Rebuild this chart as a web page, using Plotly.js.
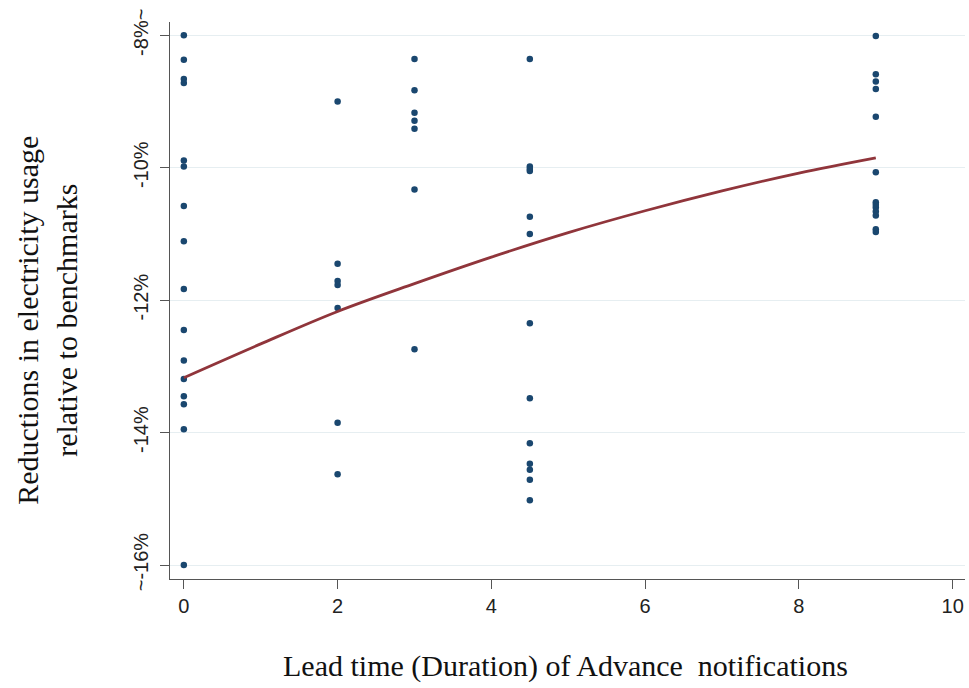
<!DOCTYPE html>
<html>
<head>
<meta charset="utf-8">
<script src="https://cdn.plot.ly/plotly-3.0.1.min.js"></script>
<style>
html,body{margin:0;padding:0;background:#fff;}
#chart{width:969px;height:688px;}
</style>
</head>
<body>
<div id="chart"></div>
<script>
// Observed reductions (percent) by lead time
const leadTime = [
  0,0,0,0,0,0,0,0,0,0,0,0,0,0,0,0,
  2,2,2,2,2,2,2,
  3,3,3,3,3,3,3,
  4.5,4.5,4.5,4.5,4.5,4.5,4.5,4.5,4.5,4.5,4.5,4.5,4.5,
  9,9,9,9,9,9,9,9,9,9,9,9,9
];
const reduction = [
  -8.00,-8.37,-8.66,-8.72,-9.89,-9.98,-10.58,-11.11,-11.83,-12.45,-12.91,-13.19,-13.45,-13.57,-13.95,-16.00,
  -9.00,-11.45,-11.71,-11.77,-12.12,-13.85,-14.63,
  -8.36,-8.83,-9.17,-9.29,-9.41,-10.33,-12.74,
  -8.36,-9.98,-10.05,-10.74,-11.00,-12.35,-13.48,-14.16,-14.47,-14.56,-14.71,-15.02,-10.02,
  -8.01,-8.59,-8.70,-8.81,-9.23,-10.07,-10.52,-10.60,-10.66,-10.72,-10.93,-10.97,-10.56
];
// Fitted curve
const fitX = [0,1,2,3,4,5,6,7,8,9];
const fitY = [-13.17,-12.66,-12.17,-11.75,-11.35,-10.98,-10.65,-10.35,-10.08,-9.85];
// Axis ticks
const xTicks = [0,2,4,6,8,10];
const yTicks = [-8,-10,-12,-14,-16];
const yTickText = ["-8%~","-10%","-12%","-14%","~-16%"];

const traces = [
  {
    x: leadTime, y: reduction, type: 'scatter', mode: 'markers',
    marker: {color: '#1a476f', size: 6.5}, hoverinfo: 'x+y'
  },
  {
    x: fitX, y: fitY, type: 'scatter', mode: 'lines',
    line: {color: '#90353b', width: 2.8, shape: 'spline'}
  }
];

const layout = {
  width: 969, height: 688,
  margin: {l: 170, r: 4, t: 22, b: 109},
  paper_bgcolor: '#ffffff', plot_bgcolor: '#ffffff',
  showlegend: false,
  font: {family: 'Liberation Sans, Arial, sans-serif', color: '#222'},
  xaxis: {
    range: [-0.18, 10.16],
    tickvals: xTicks, ticktext: xTicks.map(String),
    ticks: 'outside', ticklen: 9, tickwidth: 1, tickcolor: '#555',
    showline: true, linecolor: '#555', linewidth: 1,
    showgrid: false, zeroline: false,
    tickfont: {size: 20, color: '#222'}
  },
  yaxis: {
    range: [-16.21, -7.80],
    tickvals: yTicks, ticktext: yTickText, tickangle: -90,
    ticks: 'outside', ticklen: 9, tickwidth: 1, tickcolor: '#555',
    ticklabelstandoff: 4,
    showline: true, linecolor: '#555', linewidth: 1,
    showgrid: true, gridcolor: '#e6eef1', gridwidth: 1,
    zeroline: false,
    tickfont: {size: 20, color: '#222'}
  },
  annotations: [
    {
      text: 'Reductions in electricity usage<br>relative to benchmarks',
      xref: 'paper', yref: 'paper', x: -0.155, y: 0.465,
      xanchor: 'center', yanchor: 'middle',
      textangle: -90, showarrow: false,
      font: {family: 'Liberation Serif, Times New Roman, serif', size: 30, color: '#111'}
    },
    {
      text: 'Lead time (Duration) of Advance  notifications',
      xref: 'paper', yref: 'paper', x: 0.497, y: -0.156,
      xanchor: 'center', yanchor: 'middle',
      showarrow: false,
      font: {family: 'Liberation Serif, Times New Roman, serif', size: 30, color: '#111'}
    }
  ]
};

Plotly.newPlot('chart', traces, layout, {displayModeBar: false, staticPlot: true});
</script>
</body>
</html>
